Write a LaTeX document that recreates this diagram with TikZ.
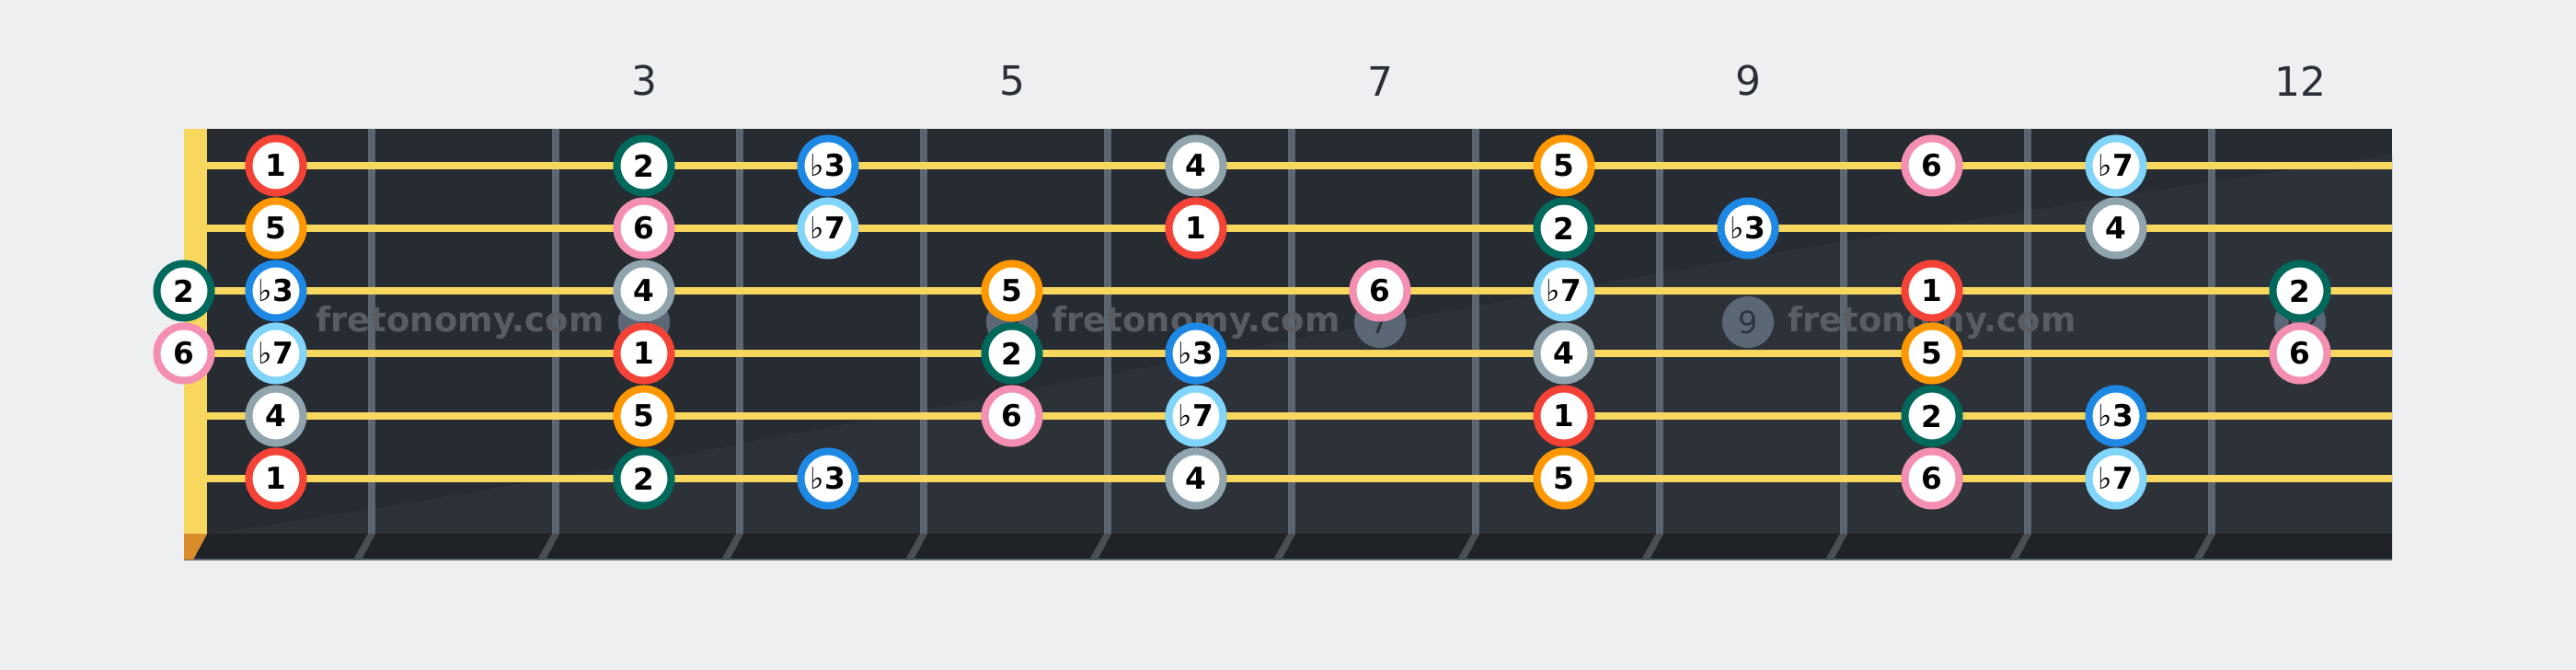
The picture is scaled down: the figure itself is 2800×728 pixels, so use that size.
\documentclass[tikz,border=0pt]{standalone}
\usepackage{fontspec}
\setmainfont{DejaVu Sans}

\definecolor{bg}{HTML}{EEEFF1}
\definecolor{board}{HTML}{272B32}
\definecolor{boardlight}{HTML}{2D3239}
\definecolor{strip}{HTML}{1F2226}
\definecolor{fretc}{HTML}{5B6672}
\definecolor{fretshade}{HTML}{4A4F56}
\definecolor{stringc}{HTML}{F8D75F}
\definecolor{nutbot}{HTML}{D98D2A}
\definecolor{numc}{HTML}{2B3038}
\definecolor{markc}{HTML}{5B6775}
\definecolor{marktext}{HTML}{2F353D}
\definecolor{wmarkc}{HTML}{595D63}
% interval colours
\definecolor{cI}{HTML}{F44336}
\definecolor{cII}{HTML}{00695C}
\definecolor{cbIII}{HTML}{1E88E5}
\definecolor{cIV}{HTML}{90A4AE}
\definecolor{cV}{HTML}{FF9800}
\definecolor{cVI}{HTML}{F48FB1}
\definecolor{cbVII}{HTML}{81D4FA}

\newcommand{\flt}{{\mdseries ♭}}

\tikzset{
  note/.style={draw=#1, circle, fill=white, line width=2.28pt, minimum size=0.59cm,
    inner sep=0pt, text=black, font=\bfseries\fontsize{9.3}{10}\selectfont},
  inlay/.style={circle, fill=markc, minimum size=0.56cm, inner sep=0pt,
    text=marktext, font=\fontsize{9.5}{10}\selectfont},
  fretnum/.style={text=numc, font=\fontsize{12.5}{14}\selectfont},
  wmark/.style={text=wmarkc, font=\bfseries\fontsize{10.5}{12}\selectfont}
}

\begin{document}
\begin{tikzpicture}[x=0.01cm, y=-0.01cm]
    \path[use as bounding box, fill=bg] (0,0) rectangle (2800,728);

    % board
    \fill[board] (225,140) rectangle (2600,580);
    \fill[boardlight] (225,580) .. controls (800,500) and (1500,330) .. (2600,168) -- (2600,580) -- cycle;
    \fill[strip] (210,608) -- (225,580) -- (2600,580) -- (2600,608) -- cycle;
    \draw[fretc, line width=0.4pt] (200,608) -- (2600,608);
    \fill[stringc] (200,140) rectangle (225,580);
    \fill[nutbot] (200,580) -- (225,580) -- (210,608) -- (200,608) -- cycle;

    % frets
    \foreach \k in {1,...,11} {
        \draw[fretc, line width=2.28pt] ({204+200*\k},140) -- ({204+200*\k},580);
        \fill[fretshade] ({200+200*\k},580) -- ({208+200*\k},580) -- ({193+200*\k},608) -- ({184+200*\k},608) -- cycle;
    }

    % markers and fret numbers
    \foreach \f in {3,5,7,9,12} {
        \node[inlay] (m\f) at ({100+200*\f},350) {\f};
        \node[fretnum] (l\f) at ({100+200*\f},88) {\f};
    }

    \foreach \x [count=\i] in {500,1300,2100}
        \node[wmark] (w\i) at (\x,350) {fretonomy.com};

    % strings
    \foreach \s in {1,...,6}
        \draw[stringc, line width=2.28pt] (225,{112+68*\s}) -- (2600,{112+68*\s});

    % notes: string/fret/colour/label
    \foreach \s/\f/\c/\t in {
        1/1/cI/1, 1/3/cII/2, 1/4/cbIII/\flt3, 1/6/cIV/4, 1/8/cV/5, 1/10/cVI/6, 1/11/cbVII/\flt7,
        2/1/cV/5, 2/3/cVI/6, 2/4/cbVII/\flt7, 2/6/cI/1, 2/8/cII/2, 2/9/cbIII/\flt3, 2/11/cIV/4,
        3/0/cII/2, 3/1/cbIII/\flt3, 3/3/cIV/4, 3/5/cV/5, 3/7/cVI/6, 3/8/cbVII/\flt7, 3/10/cI/1, 3/12/cII/2,
        4/0/cVI/6, 4/1/cbVII/\flt7, 4/3/cI/1, 4/5/cII/2, 4/6/cbIII/\flt3, 4/8/cIV/4, 4/10/cV/5, 4/12/cVI/6,
        5/1/cIV/4, 5/3/cV/5, 5/5/cVI/6, 5/6/cbVII/\flt7, 5/8/cI/1, 5/10/cII/2, 5/11/cbIII/\flt3,
        6/1/cI/1, 6/3/cII/2, 6/4/cbIII/\flt3, 6/6/cIV/4, 6/8/cV/5, 6/10/cVI/6, 6/11/cbVII/\flt7} {
        \pgfmathsetmacro{\fx}{ifthenelse(\f==0,200,100+200*\f)}
        \node[note=\c] (n\s-\f) at (\fx,{112+68*\s}) {\t};
    }

\end{tikzpicture}
\end{document}
